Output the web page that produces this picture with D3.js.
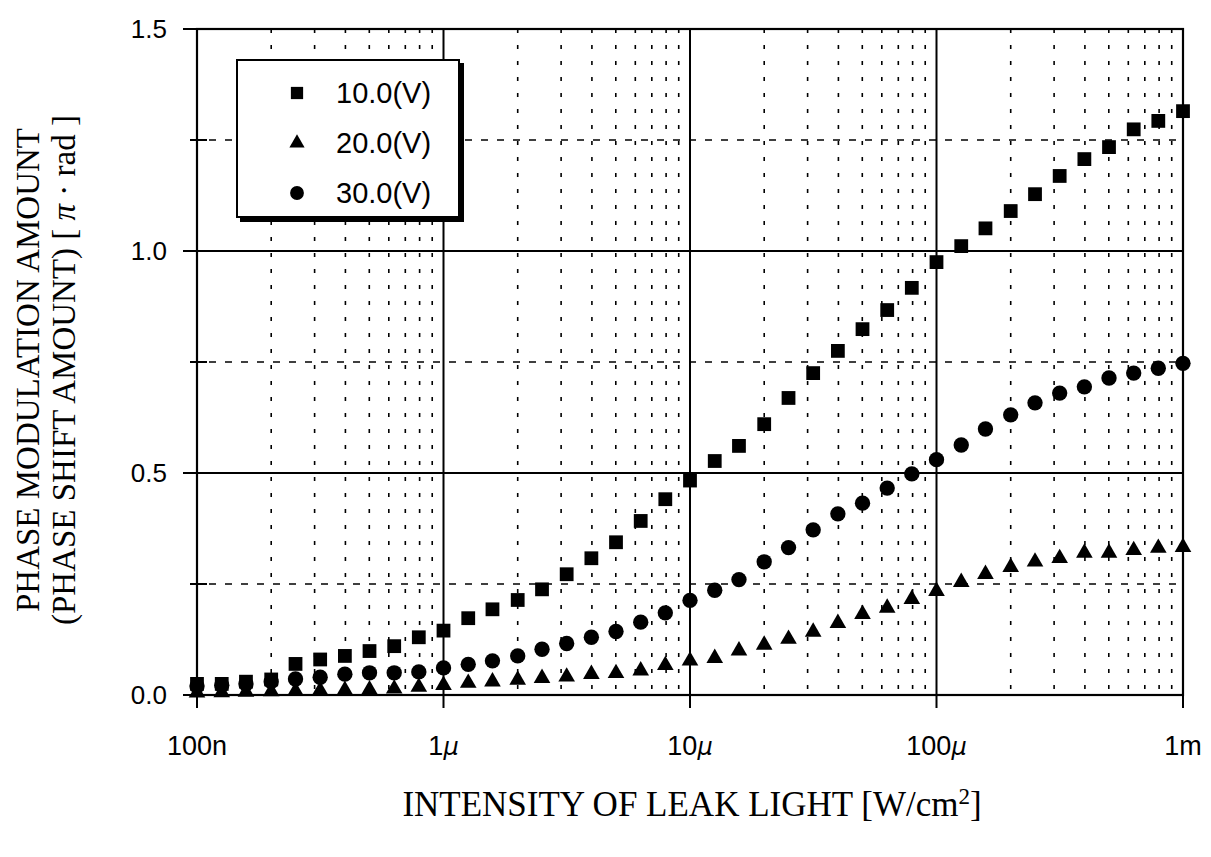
<!DOCTYPE html>
<html>
<head>
<meta charset="utf-8">
<script src="https://cdn.jsdelivr.net/npm/d3@7"></script>
<style>
  body { margin: 0; background: #fff; }
  svg { display: block; }
</style>
</head>
<body>
<div id="chart"></div>
<script>
// intensity of leak light, in uW/cm2 (100n .. 1m W/cm2)
const intensity = [0.1, 0.126, 0.158, 0.2, 0.251, 0.316, 0.398, 0.501, 0.631, 0.794,
  1, 1.26, 1.58, 2, 2.51, 3.16, 3.98, 5.01, 6.31, 7.94,
  10, 12.6, 15.8, 20, 25.1, 31.6, 39.8, 50.1, 63.1, 79.4,
  100, 126, 158, 200, 251, 316, 398, 501, 631, 794, 1000];
const volt10 = [0.025, 0.025, 0.03, 0.035, 0.07, 0.08, 0.088, 0.099, 0.11, 0.13,
  0.145, 0.173, 0.193, 0.214, 0.238, 0.272, 0.308, 0.344, 0.392, 0.441,
  0.483, 0.527, 0.561, 0.61, 0.669, 0.725, 0.775, 0.824, 0.867, 0.917,
  0.975, 1.011, 1.051, 1.09, 1.128, 1.169, 1.207, 1.234, 1.274, 1.293, 1.315];
const volt20 = [0.005, 0.006, 0.007, 0.008, 0.009, 0.01, 0.011, 0.012, 0.014, 0.018,
  0.022, 0.027, 0.03, 0.034, 0.038, 0.041, 0.047, 0.049, 0.055, 0.067,
  0.077, 0.083, 0.1, 0.113, 0.126, 0.142, 0.162, 0.182, 0.196, 0.216,
  0.234, 0.254, 0.272, 0.288, 0.3, 0.308, 0.32, 0.32, 0.326, 0.331, 0.333];
const volt30 = [0.02, 0.022, 0.025, 0.03, 0.036, 0.04, 0.047, 0.05, 0.05, 0.052,
  0.061, 0.069, 0.077, 0.088, 0.103, 0.116, 0.13, 0.143, 0.164, 0.185,
  0.213, 0.236, 0.26, 0.3, 0.332, 0.372, 0.408, 0.432, 0.466, 0.498,
  0.53, 0.563, 0.599, 0.631, 0.658, 0.68, 0.694, 0.714, 0.725, 0.736, 0.747];
const seriesNames = ["10.0(V)", "20.0(V)", "30.0(V)"];
const xTickValues = [0.1, 1, 10, 100, 1000];
const xTickLabels = [["100n", ""], ["1", "\u03bc"], ["10", "\u03bc"], ["100", "\u03bc"], ["1", "m"]];
const yTickValues = [0, 0.5, 1.0, 1.5];

const width = 1211, height = 857;
const plotLeft = 197, plotRight = 1183, plotTop = 29, plotBottom = 695;

const svg = d3.select("#chart").append("svg")
  .attr("width", width)
  .attr("height", height);

const x = d3.scaleLog().domain([0.1, 1000]).range([plotLeft, plotRight]);
const y = d3.scaleLinear().domain([0, 1.5]).range([plotBottom, plotTop]);

// vertical grid: dotted minors, solid decades
const xAll = x.ticks();
const isDecade = (v) => Math.abs(Math.log10(v) - Math.round(Math.log10(v))) < 1e-6;
svg.append("g").selectAll("line")
  .data(xAll.filter(v => !isDecade(v)))
  .enter().append("line")
  .attr("x1", d => x(d)).attr("x2", d => x(d))
  .attr("y1", plotTop).attr("y2", plotBottom + 5)
  .attr("stroke", "#000")
  .attr("stroke-width", 1.6)
  .attr("stroke-dasharray", "4,12");
svg.append("g").selectAll("line")
  .data(xAll.filter(isDecade))
  .enter().append("line")
  .attr("x1", d => x(d)).attr("x2", d => x(d))
  .attr("y1", plotTop).attr("y2", plotBottom + 13)
  .attr("stroke", "#000")
  .attr("stroke-width", 2);

// horizontal grid: dashed at quarter values, solid at halves
const yAll = d3.range(0, 1.51, 0.25);
const isHalf = (v) => Math.abs(v * 2 - Math.round(v * 2)) < 1e-6;
svg.append("g").selectAll("line")
  .data(yAll.filter(v => !isHalf(v)))
  .enter().append("line")
  .attr("x1", plotLeft + 12).attr("x2", plotRight)
  .attr("y1", d => y(d)).attr("y2", d => y(d))
  .attr("stroke", "#000")
  .attr("stroke-width", 1.6)
  .attr("stroke-dasharray", "7,9");
svg.append("g").selectAll("line") // minor y ticks crossing the axis
  .data(yAll.filter(v => !isHalf(v)))
  .enter().append("line")
  .attr("x1", plotLeft - 7).attr("x2", plotLeft + 10)
  .attr("y1", d => y(d)).attr("y2", d => y(d))
  .attr("stroke", "#000")
  .attr("stroke-width", 2);
svg.append("g").selectAll("line")
  .data(yAll.filter(isHalf))
  .enter().append("line")
  .attr("x1", plotLeft - 14).attr("x2", plotRight)
  .attr("y1", d => y(d)).attr("y2", d => y(d))
  .attr("stroke", "#000")
  .attr("stroke-width", 2);

// frame
svg.append("rect")
  .attr("x", plotLeft).attr("y", plotTop)
  .attr("width", plotRight - plotLeft).attr("height", plotBottom - plotTop)
  .attr("fill", "none")
  .attr("stroke", "#000")
  .attr("stroke-width", 2.2);

// tick labels
svg.append("g").selectAll("text")
  .data(yTickValues)
  .enter().append("text")
  .attr("x", plotLeft - 30)
  .attr("y", d => y(d))
  .attr("dy", "0.36em")
  .attr("text-anchor", "end")
  .style("font-family", "'Liberation Sans', Arial, sans-serif")
  .style("font-size", "26px")
  .text(d => d.toFixed(1));

const xl = svg.append("g").selectAll("text")
  .data(xTickValues)
  .enter().append("text")
  .attr("x", d => x(d))
  .attr("y", 755)
  .attr("text-anchor", "middle")
  .style("font-family", "'Liberation Sans', Arial, sans-serif")
  .style("font-size", "27px");
xl.append("tspan").text((d, i) => xTickLabels[i][0]);
xl.append("tspan")
  .style("font-style", (d, i) => xTickLabels[i][1] === "m" ? "normal" : "italic")
  .style("font-family", (d, i) => xTickLabels[i][1] === "m" ? null : "'DejaVu Sans', sans-serif")
  .style("font-size", (d, i) => xTickLabels[i][1] === "m" ? null : "24px")
  .text((d, i) => xTickLabels[i][1]);

// axis titles
const yTitle = svg.append("text")
  .attr("transform", "translate(39, 370) rotate(-90)")
  .attr("text-anchor", "middle")
  .style("font-family", "'Liberation Serif', 'Times New Roman', serif")
  .style("font-size", "33px");
yTitle.append("tspan").attr("x", 0).attr("dy", 0).text("PHASE MODULATION AMOUNT");
const yTitle2 = yTitle.append("tspan").attr("x", 0).attr("dy", 36);
yTitle2.append("tspan").text("(PHASE SHIFT AMOUNT) [ ");
yTitle2.append("tspan").style("font-style", "italic").text("\u03c0");
yTitle2.append("tspan").text(" \u00b7 rad ]");

const xTitle = svg.append("text")
  .attr("x", 692)
  .attr("y", 816)
  .attr("text-anchor", "middle")
  .style("font-family", "'Liberation Serif', 'Times New Roman', serif")
  .style("font-size", "35px");
xTitle.append("tspan").text("INTENSITY OF LEAK LIGHT [W/cm");
xTitle.append("tspan").attr("dy", -12).style("font-size", "23px").text("2");
xTitle.append("tspan").attr("dy", 12).text("]");

// data markers
const symbols = [d3.symbolSquare, d3.symbolTriangle, d3.symbolCircle];
const sizes = [190, 120, 185];
const seriesData = [volt10, volt20, volt30];
seriesData.forEach((vals, s) => {
  svg.append("g").selectAll("path")
    .data(vals)
    .enter().append("path")
    .attr("d", d3.symbol().type(symbols[s]).size(sizes[s]))
    .attr("transform", (d, i) => `translate(${x(intensity[i])},${y(d)})`)
    .attr("fill", "#000");
});

// legend
const lg = svg.append("g");
lg.append("rect")
  .attr("x", 240).attr("y", 63)
  .attr("width", 224).attr("height", 159)
  .attr("fill", "#000");
lg.append("rect")
  .attr("x", 237).attr("y", 60)
  .attr("width", 222).attr("height", 157)
  .attr("fill", "#fff")
  .attr("stroke", "#000")
  .attr("stroke-width", 2);
const legendSizes = [150, 100, 150];
seriesNames.forEach((name, i) => {
  const ly = 93 + i * 50;
  lg.append("path")
    .attr("d", d3.symbol().type(symbols[i]).size(legendSizes[i]))
    .attr("transform", `translate(297,${ly})`)
    .attr("fill", "#000");
  lg.append("text")
    .attr("x", 336)
    .attr("y", ly)
    .attr("dy", "0.36em")
    .style("font-family", "'Liberation Sans', Arial, sans-serif")
    .style("font-size", "29px")
    .text(name);
});
</script>
</body>
</html>
